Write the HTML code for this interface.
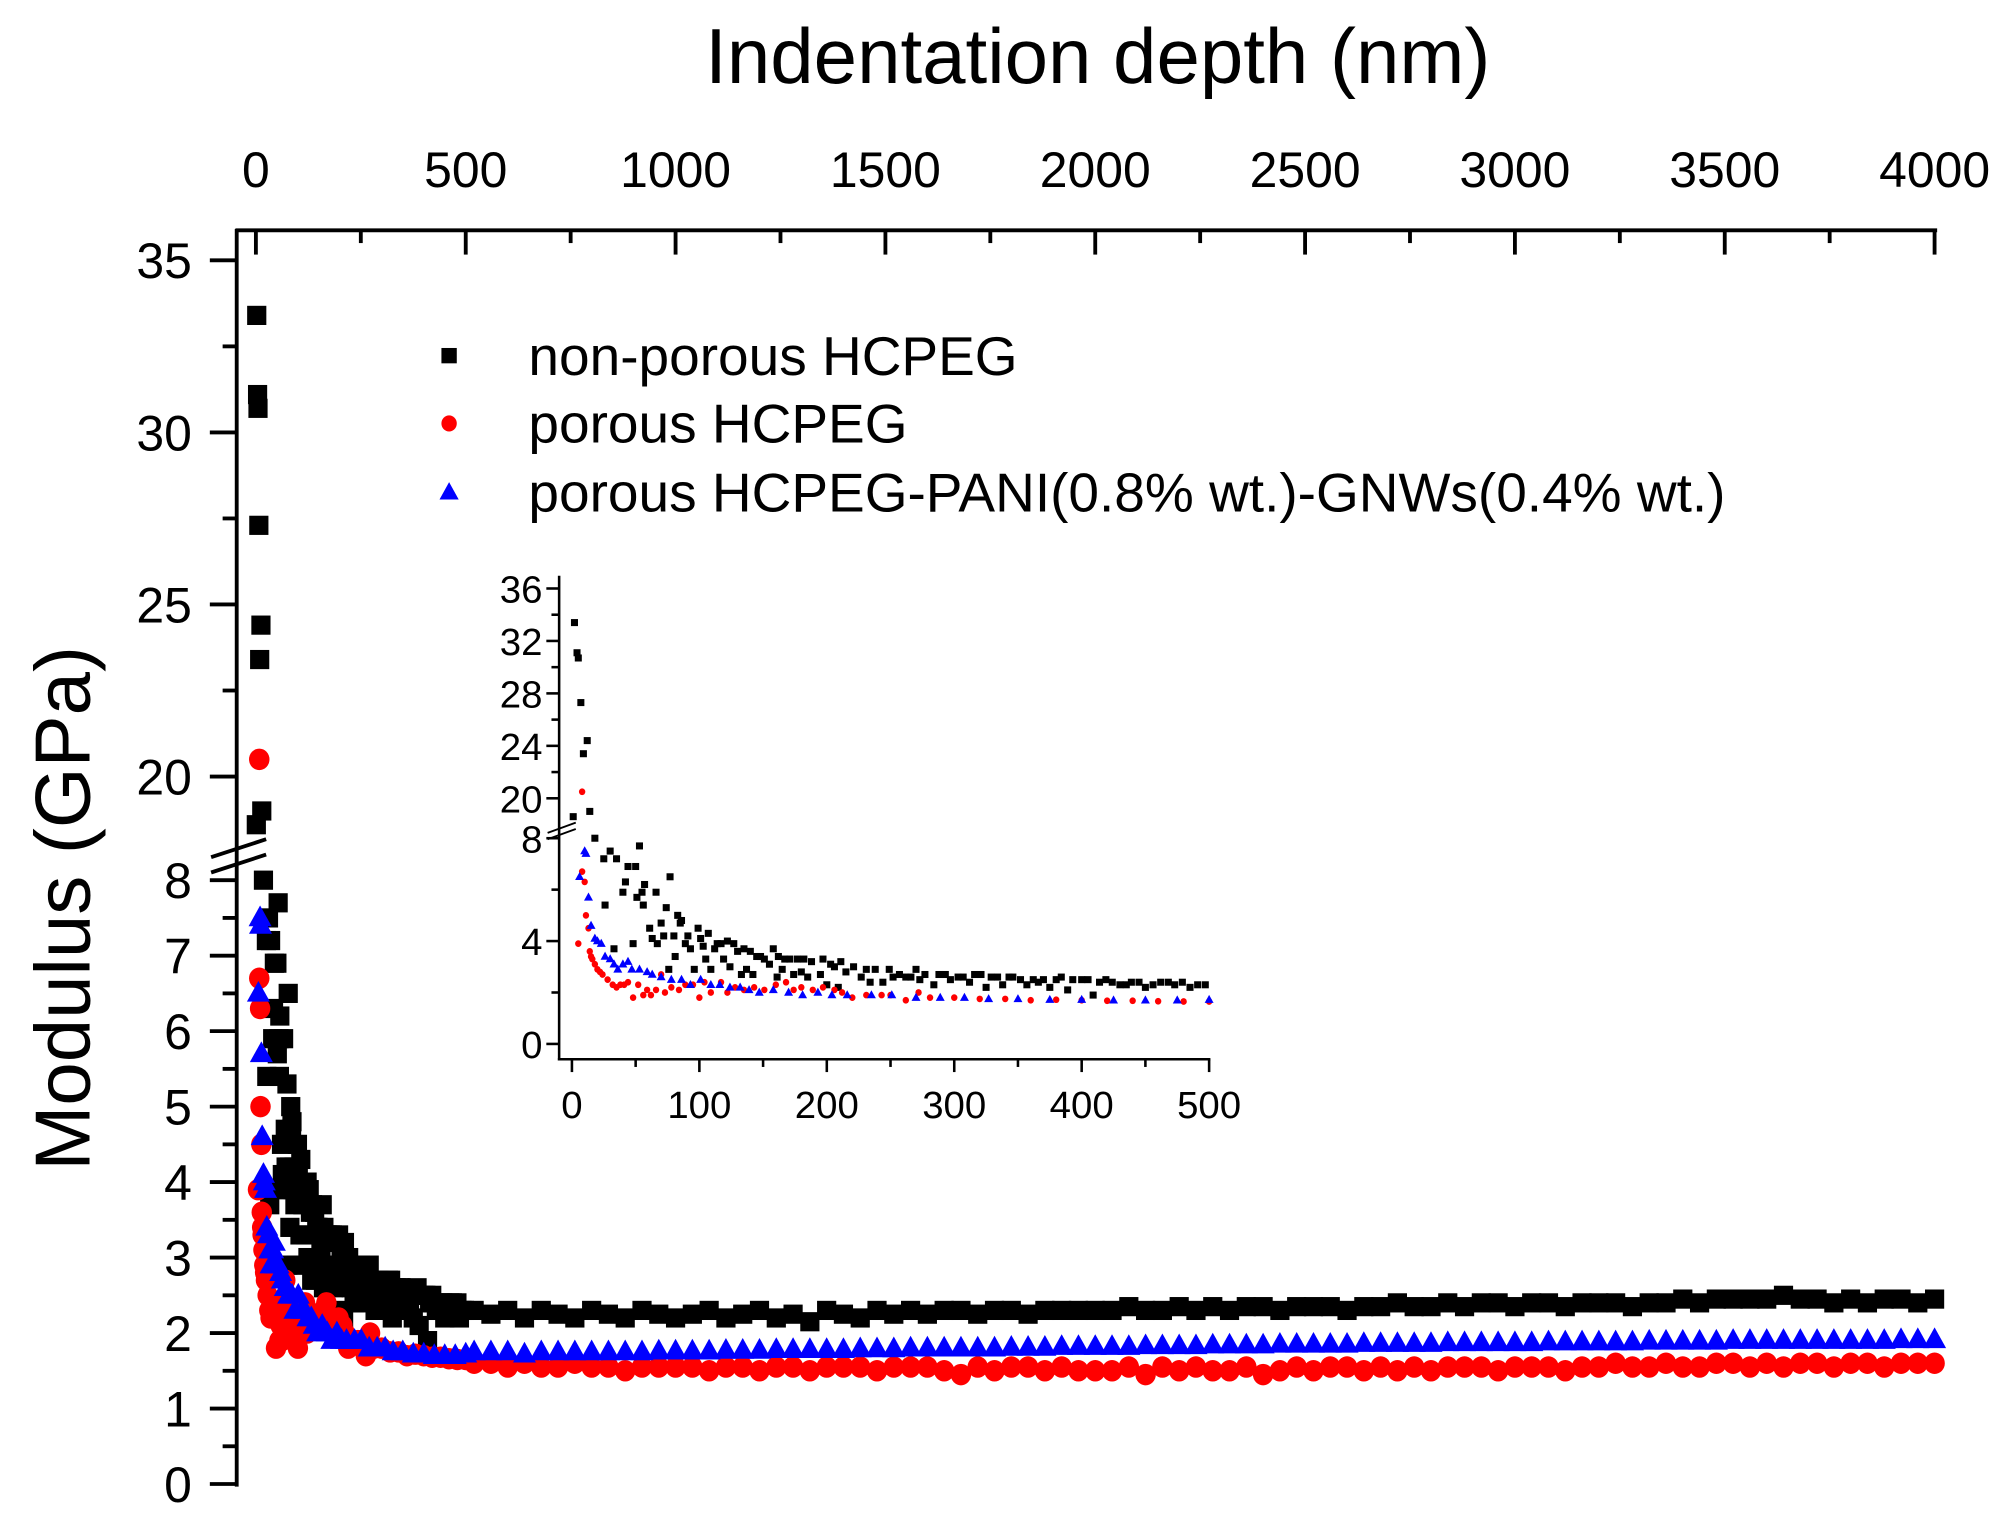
<!DOCTYPE html>
<html><head><meta charset="utf-8"><style>
html,body{margin:0;padding:0;background:#fff;}
svg{display:block;font-family:"Liberation Sans",Arial,sans-serif;}
</style></head><body>
<svg id="chart" width="1996" height="1516" viewBox="0 0 1560 1185" preserveAspectRatio="none" xmlns="http://www.w3.org/2000/svg">
<rect x="0" y="0" width="1560" height="1185" fill="#fff"/>
<g id="axes"></g>
<g id="marks"></g>
<g id="inset"></g>
<g id="legend"></g>
</svg>
<script>
// ---- data (nm, GPa) ----
const blackNearX=[2,4,5,7,9,12,14,1,18,25,26,30,33,35,40,42,44,48,50,51,53,55,56,57,61,63,66,67,70,72,74,76,77,80,81,83,85,86,89,91,93,96,99,101,103,105,107,109,112,114,117,119,122,124,127,130,133,135,137,140,142,145,148,151,155,158,161,162,165,167,171,174,177,180,182,185,188,195,197,200,203,206,209,211,215,221,227,231,234,238,244,249,252,257,262,266,270,273,277,284,288,293,297,303,307,312,316,321,325,329,334,338,343,346,352,357,362,366,370,375,380,384,389,393,400,405,409,414,419,424,430,435,439,445,450,456,462,468,473,479,485,491,497];
const blackNearY=[33.4,31.1,30.7,27.3,23.4,24.4,19.0,18.6,8.0,7.2,5.4,7.5,3.7,7.2,5.9,6.3,6.9,3.9,6.9,5.7,7.7,5.9,5.4,6.2,4.5,4.1,5.9,3.9,4.7,4.2,5.3,2.9,6.5,4.2,3.4,5.0,4.7,4.8,3.9,4.2,3.7,2.9,4.5,4.1,3.8,3.3,4.3,2.9,3.7,3.9,3.9,3.3,4.0,3.0,3.9,3.6,2.7,3.7,2.9,3.6,2.7,3.4,3.4,3.3,3.1,3.7,2.6,3.4,2.9,3.3,3.3,2.7,3.3,2.8,3.3,2.6,3.2,2.7,3.3,2.3,3.1,3.0,2.2,3.2,2.8,3.0,2.6,2.9,2.4,2.9,2.4,2.9,2.6,2.7,2.6,2.6,2.9,2.5,2.7,2.3,2.7,2.7,2.5,2.6,2.6,2.4,2.7,2.7,2.2,2.6,2.6,2.3,2.6,2.6,2.5,2.3,2.5,2.4,2.5,2.2,2.5,2.6,2.1,2.5,2.5,2.5,1.9,2.4,2.5,2.4,2.3,2.3,2.4,2.4,2.2,2.3,2.4,2.4,2.3,2.4,2.2,2.3,2.3];
const redNearX=[5,8,8,10,11,13,14,15,16,18,20,22,24,28,32,35,38,41,44,48,52,56,59,62,66,70,73,78,84,89,95,100,104,109,117,122,128,135,143,151,160,168,174,180,189,197,206,212,220,231,243,250,262,272,281,300,320,340,360,380,400,420,440,460,480,500];
const redNearY=[3.9,20.5,6.7,6.3,5.0,4.5,3.6,3.4,3.3,3.1,2.9,2.8,2.7,2.5,2.3,2.2,2.3,2.3,2.4,1.8,2.3,1.9,2.1,1.9,2.1,2.7,2.0,2.2,2.1,2.3,2.3,1.8,2.4,2.0,2.4,2.0,2.2,2.1,2.2,2.1,2.3,2.4,2.1,2.2,2.1,2.2,2.1,2.0,1.8,1.9,1.9,1.9,1.7,2.0,1.8,1.8,1.75,1.75,1.7,1.72,1.7,1.68,1.68,1.66,1.65,1.65];
const blueNearX=[6,10,11,13,15,18,20,23,26,30,33,36,40,44,47,53,59,63,70,78,86,93,101,109,116,124,132,139,147,158,170,181,193,204,216,235,251,270,289,308,327,350,375,400,425,450,475,500];
const blueNearY=[6.5,7.5,7.4,5.7,4.6,4.1,4.0,3.9,3.4,3.3,3.1,2.9,3.1,3.2,2.9,2.9,2.8,2.7,2.6,2.5,2.5,2.3,2.5,2.3,2.3,2.2,2.2,2.1,2.0,2.1,2.0,1.9,2.0,1.9,1.9,1.9,1.9,1.8,1.8,1.8,1.75,1.75,1.72,1.72,1.7,1.7,1.7,1.72];
// far field: sampled every 40 nm from 520 to 4000 nm
const farStart=520, farStep=40;
const blackFarY=[2.3,2.25,2.3,2.2,2.3,2.25,2.2,2.3,2.25,2.2,2.3,2.25,2.2,
2.25,2.3,2.2,2.25,2.3,2.2,2.25,2.15,2.3,2.25,2.2,2.3,2.25,2.3,2.25,2.3,2.3,2.25,2.3,2.3,2.25,2.3,2.3,2.3,2.3,
2.3,2.35,2.3,2.3,2.35,2.3,2.35,2.3,2.35,2.35,2.3,2.35,2.35,2.35,2.3,2.35,2.35,2.4,2.35,2.35,2.4,2.35,2.4,2.4,2.35,
2.4,2.4,2.35,2.4,2.4,2.4,2.35,2.4,2.4,2.45,2.4,2.45,2.45,2.45,2.45,2.5,2.45,2.45,2.4,2.45,2.4,2.45,2.45,2.4,2.45];
const redFarY=[1.6,1.6,1.55,1.6,1.55,1.55,1.6,1.55,1.55,1.5,1.55,1.55,1.55,
1.55,1.5,1.55,1.55,1.5,1.55,1.55,1.5,1.55,1.55,1.55,1.5,1.55,1.55,1.55,1.5,1.45,1.55,1.5,1.55,1.55,1.5,1.55,1.5,1.5,
1.5,1.55,1.45,1.55,1.5,1.55,1.5,1.5,1.55,1.45,1.5,1.55,1.5,1.55,1.55,1.5,1.55,1.5,1.55,1.5,1.55,1.55,1.55,1.5,1.55,
1.55,1.55,1.5,1.55,1.55,1.6,1.55,1.55,1.6,1.55,1.55,1.6,1.6,1.55,1.6,1.55,1.6,1.6,1.55,1.6,1.6,1.55,1.6,1.6,1.6];
const blueFarY=[1.75,1.75,1.75,1.72,1.75,1.75,1.75,1.75,1.75,1.75,1.75,1.76,1.76,
1.76,1.76,1.77,1.77,1.77,1.78,1.78,1.78,1.78,1.78,1.79,1.79,1.79,1.8,1.8,1.8,1.8,1.8,1.8,1.81,1.81,1.81,1.82,1.82,1.82,
1.82,1.82,1.83,1.83,1.83,1.83,1.84,1.84,1.84,1.84,1.85,1.85,1.85,1.85,1.85,1.86,1.86,1.86,1.86,1.86,1.87,1.87,1.87,1.87,1.87,
1.87,1.88,1.88,1.88,1.88,1.88,1.88,1.89,1.89,1.89,1.89,1.89,1.9,1.9,1.9,1.9,1.9,1.9,1.9,1.9,1.9,1.9,1.91,1.91,1.91];
const xTicks=[0,500,1000,1500,2000,2500,3000,3500,4000];
const yTicksUpper=[20,25,30,35];
const yTicksLower=[0,1,2,3,4,5,6,7,8];
const insetXTicks=[0,100,200,300,400,500];
const insetYUpper=[20,24,28,32,36];
const insetYLower=[0,4,8];
const legendLabels=["non-porous HCPEG","porous HCPEG","porous HCPEG-PANI(0.8% wt.)-GNWs(0.4% wt.)"];

const NS="http://www.w3.org/2000/svg";
function el(tag,attrs,parent,text){const e=document.createElementNS(NS,tag);for(const k in attrs)e.setAttribute(k,attrs[k]);if(text!==undefined)e.textContent=text;parent.appendChild(e);return e;}
function build(nearX,nearY,farY){const xs=nearX.slice(),ys=nearY.slice();for(let i=0;i<farY.length;i++){xs.push(farStart+i*farStep);ys.push(farY[i]);}return [xs,ys];}
const series=[
 {name:"non-porous",color:"#000",shape:"square",d:build(blackNearX,blackNearY,blackFarY)},
 {name:"porous",color:"#f00",shape:"circle",d:build(redNearX,redNearY,redFarY)},
 {name:"porous-pani-gnws",color:"#00f",shape:"triangle",d:build(blueNearX,blueNearY,blueFarY)}];

const mx=v=>200+v*(1512-200)/4000;
const my=v=>v>=12?607-(v-20)*26.9:1160-v*59;
const ix=v=>447+v*(945-447)/500;
const iy=v=>v>=12?624-(v-20)*10.25:816-v*20.1;

function marker(g,shape,cx,cy,s,color){
 if(shape==="square")return el("rect",{x:cx-s/2,y:cy-s/2,width:s,height:s,fill:color},g);
 if(shape==="circle")return el("ellipse",{cx:cx,cy:cy,rx:s/2,ry:s/2*1.05,fill:color},g);
 const h=s*0.9;return el("polygon",{points:`${cx},${cy-h*0.6} ${cx+s/2},${cy+h*0.4} ${cx-s/2},${cy+h*0.4}`,fill:color},g);
}

const axes=document.getElementById("axes");
const t=el("text",{x:858,y:65,"font-size":61,"text-anchor":"middle",fill:"#000"},axes,"Indentation depth (nm)");


const yt=el("text",{x:0,y:0,"font-size":61,"text-anchor":"middle",fill:"#000",transform:"translate(70,710) rotate(-90)"},axes,"Modulus (GPa)");


el("line",{x1:184,y1:180,x2:1514,y2:180,stroke:"#000","stroke-width":3},axes);
el("line",{x1:185,y1:179,x2:185,y2:1162,stroke:"#000","stroke-width":3},axes);
for(const v of xTicks){
 el("line",{x1:mx(v),y1:180,x2:mx(v),y2:199,stroke:"#000","stroke-width":3},axes);
 const l=el("text",{x:mx(v),y:146,"font-size":39,"text-anchor":"middle"},axes,String(v));
 
 
 if(v<4000)el("line",{x1:mx(v+250),y1:180,x2:mx(v+250),y2:190,stroke:"#000","stroke-width":3},axes);
}
for(const v of yTicksUpper){
 el("line",{x1:164,y1:my(v),x2:185,y2:my(v),stroke:"#000","stroke-width":3},axes);
 const l=el("text",{x:150,y:my(v)+14,"font-size":39,"text-anchor":"end"},axes,String(v));
 
 
 if(v<35)el("line",{x1:174,y1:my(v+2.5),x2:185,y2:my(v+2.5),stroke:"#000","stroke-width":3},axes);
}
for(const v of yTicksLower){
 el("line",{x1:164,y1:my(v),x2:185,y2:my(v),stroke:"#000","stroke-width":3},axes);
 const l=el("text",{x:150,y:my(v)+14,"font-size":39,"text-anchor":"end"},axes,String(v));
 
 
 if(v<8)el("line",{x1:174,y1:my(v+0.5),x2:185,y2:my(v+0.5),stroke:"#000","stroke-width":3},axes);
}
el("line",{x1:208,y1:656,x2:165,y2:670,stroke:"#000","stroke-width":3},axes);
el("line",{x1:208,y1:668,x2:165,y2:682,stroke:"#000","stroke-width":3},axes);

const marks=document.getElementById("marks");
const msz={square:15,circle:16,triangle:18};
for(const s of series){
 const g=el("g",{},marks);
 
 
 const [xs,ys]=s.d;
 for(let i=0;i<xs.length;i++){
  const m=marker(g,s.shape,mx(xs[i]),my(ys[i]),msz[s.shape],s.color);
  
  
 }
}

const ins=document.getElementById("inset");


el("line",{x1:437,y1:450,x2:437,y2:829,stroke:"#000","stroke-width":2},ins);
el("line",{x1:436,y1:828,x2:946,y2:828,stroke:"#000","stroke-width":2},ins);
for(const v of insetXTicks){
 el("line",{x1:ix(v),y1:828,x2:ix(v),y2:838,stroke:"#000","stroke-width":2},ins);
 if(v<500)el("line",{x1:ix(v+50),y1:828,x2:ix(v+50),y2:834,stroke:"#000","stroke-width":2},ins);
 const l=el("text",{x:ix(v),y:874,"font-size":30,"text-anchor":"middle"},ins,String(v));
 
 
}
for(const v of insetYUpper){
 el("line",{x1:427,y1:iy(v),x2:437,y2:iy(v),stroke:"#000","stroke-width":2},ins);
 if(v<36)el("line",{x1:431,y1:iy(v+2),x2:437,y2:iy(v+2),stroke:"#000","stroke-width":2},ins);
 const l=el("text",{x:424,y:iy(v)+11,"font-size":30,"text-anchor":"end"},ins,String(v));
 
 
}
for(const v of insetYLower){
 el("line",{x1:427,y1:iy(v),x2:437,y2:iy(v),stroke:"#000","stroke-width":2},ins);
 if(v<8)el("line",{x1:431,y1:iy(v+2),x2:437,y2:iy(v+2),stroke:"#000","stroke-width":2},ins);
 const l=el("text",{x:424,y:iy(v)+11,"font-size":30,"text-anchor":"end"},ins,String(v));
 
 
}
el("line",{x1:450,y1:643,x2:428,y2:651,stroke:"#000","stroke-width":1.5},ins);
el("line",{x1:450,y1:648,x2:428,y2:656,stroke:"#000","stroke-width":1.5},ins);
const isz={square:5.5,circle:5,triangle:7};
for(const s of series){
 const g=el("g",{},ins);
 
 
 const [xs,ys]=s.d;
 for(let i=0;i<xs.length;i++){
  if(xs[i]>500)continue;
  const m=marker(g,s.shape,ix(xs[i]),iy(ys[i]),isz[s.shape],s.color);
  
  
 }
}

const leg=document.getElementById("legend");


const rows=[278,331,385];
for(let i=0;i<3;i++){
 const e=el("g",{},leg);
 
 
 marker(e,series[i].shape,351,rows[i],series[i].shape==="triangle"?15:12,series[i].color);
 el("text",{x:413,y:rows[i]+15,"font-size":43},e,legendLabels[i]);
}
</script>
</body></html>
